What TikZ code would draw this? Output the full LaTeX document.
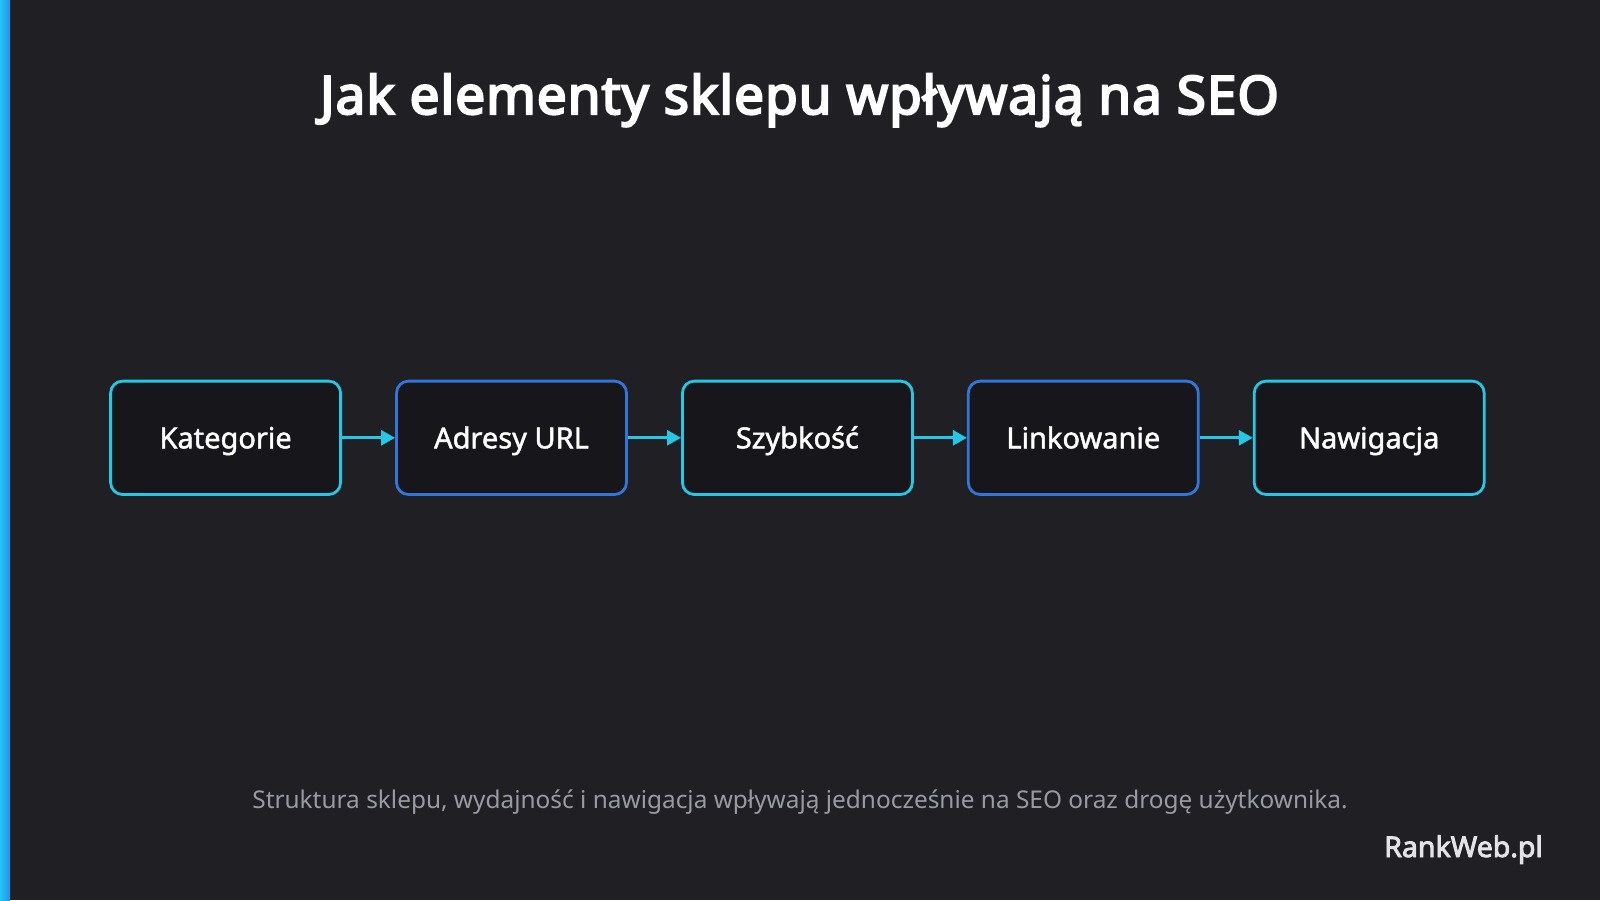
\documentclass[tikz,border=0pt]{standalone}
\usepackage{fontspec}
\setmainfont{Noto Sans}
\newfontfamily\semib[FakeBold=1.6]{Noto Sans}
\newfontfamily\boldf[FakeBold=4,LetterSpace=2]{Noto Sans}
\newfontfamily\brandf[FakeBold=3]{Noto Sans}
\usetikzlibrary{arrows.meta}
\definecolor{bg}{HTML}{1F1F24}
\definecolor{boxfill}{HTML}{17171B}
\definecolor{cyanc}{HTML}{25C8E4}
\definecolor{bluec}{HTML}{3176DC}
\definecolor{barL}{HTML}{22C6F2}
\definecolor{barR}{HTML}{2A8EEA}
\definecolor{subc}{HTML}{9A9AA2}
\definecolor{brandc}{HTML}{E4E4E8}
\tikzset{
  stepbox/.style={draw, line width=2.8pt, rounded corners=12pt, fill=boxfill,
    minimum width=230pt, minimum height=113.4pt, inner sep=0pt,
    text height=21pt, text depth=0pt,
    text=white, font=\semib\fontsize{29}{34}\selectfont},
  cyanbox/.style={stepbox, draw=cyanc},
  bluebox/.style={stepbox, draw=bluec},
  flow/.style={draw=cyanc, line width=2.8pt, -{Triangle[length=14pt,width=15pt]}},
}
\begin{document}
\begin{tikzpicture}[x=1pt,y=-1pt]
\useasboundingbox (0,0) rectangle (1600,900);
\fill[bg] (0,0) rectangle (1600,900);
\shade[left color=barL, right color=barR] (0,0) rectangle (10,900);
\node[font=\boldf\fontsize{53}{60}\selectfont, text=white, anchor=base, inner sep=0pt] (title) at (799.5,114) {Jak elementy sklepu wpływają na SEO};
\node[cyanbox] (b1) at (225.6,437.8) {Kategorie};
\node[bluebox] (b2) at (511.5,437.8) {Adresy URL};
\node[cyanbox] (b3) at (797.4,437.8) {Szybkość};
\node[bluebox] (b4) at (1083.3,437.8) {Linkowanie};
\node[cyanbox] (b5) at (1369.2,437.8) {Nawigacja};
\draw[flow] (b1.east) -- (b2.west);
\draw[flow] (b2.east) -- (b3.west);
\draw[flow] (b3.east) -- (b4.west);
\draw[flow] (b4.east) -- (b5.west);
\node[font=\fontsize{24.4}{30}\selectfont, text=subc, anchor=base, inner sep=0pt] (sub) at (800,808) {Struktura sklepu, wydajność i nawigacja wpływają jednocześnie na SEO oraz drogę użytkownika.};
\node[font=\brandf\fontsize{28.5}{32}\selectfont, text=brandc, anchor=base east, inner sep=0pt] (brand) at (1543,857) {RankWeb.pl};
\end{tikzpicture}
\end{document}
